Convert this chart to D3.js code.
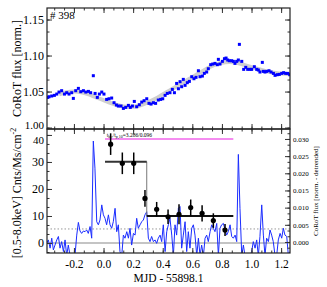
<!DOCTYPE html>
<html>
<head>
<meta charset="utf-8">
<script src="https://cdn.jsdelivr.net/npm/d3@7"></script>
<style>
    body { margin: 0; background: #fff; }
    text { font-family: "Liberation Serif", "DejaVu Serif", serif; fill: #000; }
</style>
</head>
<body>
<div id="chart"></div>
<script>

// CoRoT light curve (top panel), normalised flux
const corotTime = [-0.377,-0.368,-0.350,-0.332,-0.316,-0.301,-0.283,-0.264,-0.249,-0.233,-0.215,-0.204,-0.188,-0.170,-0.154,-0.136,-0.120,-0.102,-0.087,-0.069,-0.057,-0.042,-0.028,-0.012,0.003,0.021,0.037,0.055,0.071,0.087,0.100,0.118,0.134,0.150,0.168,0.181,0.195,0.208,0.224,0.242,0.258,0.274,0.292,0.307,0.321,0.337,0.352,0.370,0.386,0.400,0.416,0.431,0.449,0.465,0.479,0.494,0.506,0.517,0.528,0.539,0.551,0.566,0.580,0.596,0.611,0.625,0.641,0.652,0.668,0.681,0.697,0.708,0.724,0.738,0.753,0.769,0.776,0.787,0.803,0.817,0.828,0.839,0.850,0.866,0.877,0.888,0.900,0.911,0.918,0.934,0.947,0.961,0.974,0.990,1.001,1.019,1.035,1.046,1.057,1.073,1.080,1.091,1.102,1.118,1.132,1.148,1.159,1.174,1.188,1.204,1.217,1.231,1.245,1.258];
const corotFlux = [1.0419,1.0428,1.0438,1.0447,1.0465,1.0493,1.0512,1.0465,1.0484,1.0465,1.0484,1.0405,1.0512,1.0544,1.0498,1.0512,1.0493,1.0502,1.0484,1.0720,1.0474,1.0419,1.0465,1.0493,1.0465,1.0391,1.0400,1.0410,1.0345,1.0313,1.0299,1.0299,1.0266,1.0280,1.0308,1.0280,1.0299,1.0363,1.0289,1.0317,1.0354,1.0373,1.0400,1.0336,1.0326,1.0345,1.0336,1.0382,1.0391,1.0400,1.0447,1.0474,1.0484,1.0530,1.0484,1.0613,1.0539,1.0637,1.0567,1.0669,1.0586,1.0623,1.0641,1.0706,1.0678,1.0697,1.0789,1.0706,1.0715,1.0752,1.0771,1.0817,1.0873,1.0882,1.0891,1.0873,1.0947,1.0882,1.0919,1.0956,1.0965,1.0938,1.0928,1.0928,1.0919,1.0891,1.0919,1.0938,1.1155,1.0919,1.0808,1.0836,1.0808,1.0808,1.0808,1.0845,1.0808,1.0799,1.0771,1.0905,1.0780,1.0771,1.0780,1.0789,1.0771,1.0752,1.0725,1.0734,1.0738,1.0752,1.0762,1.0752,1.0752,1.0734];

// smooth trend (grey band)
const trendTime = [-0.30,-0.25,-0.20,-0.15,-0.10,-0.05,0.00,0.05,0.10,0.15,0.20,0.25,0.30,0.35,0.40,0.45,0.50,0.55,0.60,0.65,0.70,0.75,0.80,0.85,0.90,0.95,1.00,1.05,1.10,1.15,1.20,1.26];
const trendFlux = [1.046,1.049,1.050,1.049,1.046,1.042,1.038,1.034,1.031,1.029,1.029,1.031,1.035,1.040,1.046,1.052,1.058,1.064,1.070,1.076,1.082,1.087,1.090,1.091,1.090,1.087,1.084,1.081,1.078,1.076,1.075,1.074];

// detrended CoRoT flux (bottom panel, right axis)
const detTime = [-0.384,-0.373,-0.361,-0.350,-0.339,-0.328,-0.316,-0.305,-0.294,-0.283,-0.271,-0.260,-0.249,-0.238,-0.226,-0.215,-0.204,-0.193,-0.181,-0.170,-0.159,-0.148,-0.136,-0.125,-0.114,-0.103,-0.091,-0.080,-0.069,-0.058,-0.046,-0.035,-0.024,-0.012,-0.001,0.010,0.021,0.033,0.044,0.055,0.066,0.078,0.089,0.100,0.111,0.123,0.134,0.145,0.157,0.168,0.179,0.190,0.202,0.213,0.224,0.235,0.247,0.258,0.269,0.280,0.292,0.303,0.314,0.325,0.337,0.348,0.359,0.370,0.382,0.393,0.404,0.416,0.427,0.438,0.449,0.461,0.472,0.483,0.494,0.506,0.517,0.528,0.539,0.551,0.562,0.573,0.584,0.596,0.607,0.618,0.630,0.641,0.652,0.663,0.675,0.686,0.697,0.708,0.720,0.731,0.742,0.753,0.765,0.776,0.787,0.798,0.810,0.821,0.832,0.843,0.855,0.866,0.877,0.889,0.900,0.911,0.922,0.934,0.945,0.956,0.967,0.979,0.990,1.001,1.012,1.024,1.035,1.046,1.057,1.069,1.080,1.091,1.102,1.114,1.125,1.136,1.147,1.159,1.170,1.181,1.193,1.204,1.215,1.226,1.238,1.249,1.260];
const detFlux = [-0.0004,0.0006,-0.0018,0.0011,-0.0023,-0.0009,0.0006,0.0016,-0.0018,0.0001,-0.0028,0.0006,-0.0040,-0.0009,-0.0040,-0.0040,-0.0040,-0.0040,0.0020,0.0057,0.0032,0.0025,0.0032,0.0030,0.0035,0.0025,0.0045,0.0011,0.0294,0.0215,0.0059,0.0050,0.0064,0.0108,0.0079,0.0069,0.0050,0.0079,0.0050,0.0040,0.0059,0.0098,0.0030,0.0050,-0.0028,-0.0040,0.0020,0.0011,0.0030,0.0011,0.0040,-0.0009,0.0025,0.0020,0.0069,0.0040,0.0050,0.0059,0.0064,0.0079,0.0088,0.0011,0.0001,0.0016,0.0001,0.0006,-0.0004,0.0011,0.0020,0.0001,0.0050,-0.0028,0.0030,0.0050,0.0069,0.0020,-0.0040,0.0050,0.0020,0.0098,0.0103,-0.0018,0.0020,0.0059,-0.0028,0.0030,-0.0018,0.0040,0.0050,0.0020,-0.0040,0.0011,-0.0040,-0.0009,-0.0040,0.0011,0.0020,0.0001,0.0030,0.0050,0.0040,0.0030,0.0054,-0.0040,0.0040,0.0050,0.0054,0.0035,0.0020,0.0030,0.0050,0.0016,0.0011,0.0020,0.0001,0.0255,0.0098,-0.0040,-0.0009,-0.0040,-0.0040,-0.0040,-0.0040,-0.0028,0.0001,-0.0018,0.0006,-0.0040,0.0016,0.0108,0.0020,-0.0040,0.0011,0.0001,0.0035,0.0020,0.0001,-0.0040,-0.0040,0.0006,0.0025,0.0011,0.0040,0.0020,0.0016,-0.0040,-0.0028];

// X-ray light curve (bottom panel, left axis)
const xrayTime = [0.048,0.127,0.204,0.280,0.359,0.436,0.510,0.589,0.666,0.742,0.821];
const xrayRate = [36.6,29.5,29.5,16.5,12.5,9.7,10.6,13.1,11.0,8.3,4.8];
const xrayErr  = [4.0,4.0,4.0,3.1,2.7,2.7,3.7,3.0,3.0,2.7,2.2];

// block steps: start, end, level
const blockStart = [0.010,0.292];
const blockEnd   = [0.292,0.877];
const blockRate  = [30.1,10.0];

// flare duration bar
const flareSpan = [0.010,0.877];
const flareLevel = 38.5;
const flareLabel = '3.286/0.096';

// reference lines (left axis units)
const zeroLevel = 0;
const quiescentLevel = 5.2;

// tick labels
const xTicks = [-0.2,0.0,0.2,0.4,0.6,0.8,1.0,1.2];
const fluxTicks = [1.00,1.05,1.10,1.15];
const rateTicks = [0,10,20,30,40];
const detTicks = [0.000,0.005,0.010,0.015,0.020,0.025,0.030];

function init(){

    const width = 327;
    const height = 287;
    const left = 47, right = 290, top = 8, mid = 129, bottom = 253;

    const svg = d3.select('#chart')
        .append('svg')
        .attr('width', width)
        .attr('height', height);

    // scales
    const x = d3.scaleLinear().domain([-0.382, 1.260]).range([left, right]);
    const yFlux = d3.scaleLinear().domain([0.998, 1.166]).range([mid, top]);
    const yRate = d3.scaleLinear().domain([-3.7, 42.2]).range([bottom, mid]);
    const yDet = d3.scaleLinear().domain([-0.00321, 0.0329]).range([bottom, mid]);

    svg.append('defs').append('clipPath').attr('id', 'clipBottom')
        .append('rect').attr('x', left).attr('y', mid).attr('width', right - left).attr('height', bottom - mid);
    svg.append('defs').append('clipPath').attr('id', 'clipTop')
        .append('rect').attr('x', left).attr('y', top).attr('width', right - left).attr('height', mid - top);

    /*************************** top panel **************************/

    const topG = svg.append('g').attr('clip-path', 'url(#clipTop)');

    const trendLine = d3.line()
        .x((d, i) => x(trendTime[i]))
        .y(d => yFlux(d))
        .curve(d3.curveMonotoneX);

    topG.append('path')
        .attr('d', trendLine(trendFlux))
        .attr('fill', 'none')
        .attr('stroke', '#cfcfcf')
        .attr('stroke-width', 4);

    topG.selectAll('rect.dot')
        .data(corotFlux)
        .enter().append('rect')
        .attr('class', 'dot')
        .attr('x', (d, i) => x(corotTime[i]) - 1.5)
        .attr('y', d => yFlux(d) - 1.5)
        .attr('width', 3)
        .attr('height', 3)
        .attr('fill', '#0000ff');

    svg.append('text')
        .attr('x', 50).attr('y', 19)
        .attr('font-size', 11)
        .text('# 398');

    /************************** bottom panel ************************/

    const botG = svg.append('g').attr('clip-path', 'url(#clipBottom)');

    botG.append('line')
        .attr('x1', left).attr('x2', right)
        .attr('y1', yRate(zeroLevel)).attr('y2', yRate(zeroLevel))
        .attr('stroke', '#b0b0b0').attr('stroke-width', 1.5);

    botG.append('line')
        .attr('x1', left).attr('x2', right)
        .attr('y1', yRate(quiescentLevel)).attr('y2', yRate(quiescentLevel))
        .attr('stroke', '#999').attr('stroke-width', 1)
        .attr('stroke-dasharray', '1.5,2');

    const detLine = d3.line()
        .x((d, i) => x(detTime[i]))
        .y(d => yDet(d));

    botG.append('path')
        .attr('d', detLine(detFlux))
        .attr('fill', 'none')
        .attr('stroke', '#1a2cff')
        .attr('stroke-width', 1);

    // flare duration bar + label
    botG.append('line')
        .attr('x1', x(flareSpan[0])).attr('x2', x(flareSpan[1]))
        .attr('y1', yRate(flareLevel)).attr('y2', yRate(flareLevel))
        .attr('stroke', '#f58cf0').attr('stroke-width', 2);

    const lab = svg.append('text')
        .attr('x', x(0.022)).attr('y', yRate(flareLevel) - 2)
        .attr('font-size', 5.5);
    lab.append('tspan').text('t');
    lab.append('tspan').attr('dy', 1.5).attr('font-size', 4).text('b,r');
    lab.append('tspan').attr('dy', -1.5).text('/t');
    lab.append('tspan').attr('dy', 1.5).attr('font-size', 4).text('p,10');
    lab.append('tspan').attr('dy', -1.5).text('=' + flareLabel);

    // block steps
    botG.append('line')
        .attr('x1', x(blockEnd[0])).attr('x2', x(blockEnd[0]))
        .attr('y1', yRate(blockRate[0])).attr('y2', yRate(blockRate[1]))
        .attr('stroke', '#777').attr('stroke-width', 1);

    botG.selectAll('line.block')
        .data(blockRate)
        .enter().append('line')
        .attr('class', 'block')
        .attr('x1', (d, i) => x(blockStart[i]))
        .attr('x2', (d, i) => x(blockEnd[i]))
        .attr('y1', d => yRate(d))
        .attr('y2', d => yRate(d))
        .attr('stroke', (d, i) => i === 0 ? '#333' : '#111')
        .attr('stroke-width', 2);

    // x-ray points with error bars
    botG.selectAll('line.err')
        .data(xrayRate)
        .enter().append('line')
        .attr('class', 'err')
        .attr('x1', (d, i) => x(xrayTime[i]))
        .attr('x2', (d, i) => x(xrayTime[i]))
        .attr('y1', (d, i) => yRate(d - xrayErr[i]))
        .attr('y2', (d, i) => yRate(d + xrayErr[i]))
        .attr('stroke', '#000').attr('stroke-width', 1.5);

    botG.selectAll('circle.pt')
        .data(xrayRate)
        .enter().append('circle')
        .attr('class', 'pt')
        .attr('cx', (d, i) => x(xrayTime[i]))
        .attr('cy', d => yRate(d))
        .attr('r', 2.6)
        .attr('fill', '#000');

    /***************************** axes *****************************/

    function minorTicks(scale, step) {
        const [a, b] = scale.domain();
        return d3.range(Math.ceil(a / step - 1e-6) * step, b + 1e-9, step);
    }

    function ticks(axisFn, scale, pos, majors, step, fmt, size) {
        svg.append('g')
            .attr('transform', pos)
            .call(axisFn(scale).tickValues(minorTicks(scale, step)).tickSize(-2.5).tickFormat(''))
            .call(g => g.select('.domain').remove())
            .selectAll('line').attr('stroke', '#333');
        const g = svg.append('g')
            .attr('transform', pos)
            .call(axisFn(scale).tickValues(majors).tickSize(-5).tickPadding(3)
                .tickFormat(fmt || ''))
            .call(g => g.select('.domain').remove());
        g.selectAll('line').attr('stroke', '#333');
        g.selectAll('text')
            .attr('font-family', '"Liberation Serif", serif')
            .attr('font-size', size || 12)
            .attr('fill', '#000');
        return g;
    }

    const xStep = 0.2 / 3;
    // top panel
    ticks(d3.axisTop, x, `translate(0,${top})`, xTicks, xStep);
    ticks(d3.axisBottom, x, `translate(0,${mid})`, xTicks, xStep);
    const yl = ticks(d3.axisLeft, yFlux, `translate(${left},0)`, fluxTicks, 0.05 / 3, d => d.toFixed(2));
    // lowest flux label sits just above the '40' of the lower panel
    yl.selectAll('text').filter(d => d === 1.00).attr('dy', '0.05em').attr('font-size', 11);
    ticks(d3.axisRight, yFlux, `translate(${right},0)`, fluxTicks, 0.05 / 3);
    // bottom panel
    ticks(d3.axisTop, x, `translate(0,${mid})`, xTicks, xStep);
    const xb = ticks(d3.axisBottom, x, `translate(0,${bottom})`, xTicks, xStep, d => d.toFixed(1), 11.5);
    xb.selectAll('text').attr('dy', '0.95em').attr('y', 4);
    const rl = ticks(d3.axisLeft, yRate, `translate(${left},0)`, rateTicks, 10 / 3, d => d);
    rl.selectAll('text').filter(d => d === 40).attr('dy', '0.75em').attr('font-size', 11);
    ticks(d3.axisRight, yDet, `translate(${right},0)`, detTicks, 0.005 / 3, d => d.toFixed(3), 7);

    // frames
    svg.append('rect')
        .attr('x', left).attr('y', top).attr('width', right - left).attr('height', mid - top)
        .attr('fill', 'none').attr('stroke', '#222').attr('stroke-width', 1.2);
    svg.append('rect')
        .attr('x', left).attr('y', mid).attr('width', right - left).attr('height', bottom - mid)
        .attr('fill', 'none').attr('stroke', '#222').attr('stroke-width', 1.2);

    /**************************** titles ****************************/

    svg.append('text')
        .attr('transform', `translate(21,${(top + mid) / 2}) rotate(-90)`)
        .attr('text-anchor', 'middle')
        .attr('font-size', 12)
        .text('CoRoT flux [norm.]');

    const yt = svg.append('text')
        .attr('transform', `translate(21,${(mid + bottom) / 2 + 2}) rotate(-90)`)
        .attr('text-anchor', 'middle')
        .attr('font-size', 12);
    yt.append('tspan').text('[0.5-8.0keV] Cnts/Ms/cm');
    yt.append('tspan').attr('dy', -5).attr('font-size', 8).text('-2');

    svg.append('text')
        .attr('transform', `translate(318,${(mid + bottom) / 2}) rotate(-90)`)
        .attr('text-anchor', 'middle')
        .attr('font-size', 7)
        .text('CoRoT flux [norm. - detrended]');

    svg.append('text')
        .attr('x', (left + right) / 2).attr('y', 282)
        .attr('text-anchor', 'middle')
        .attr('font-size', 11.5)
        .text('MJD - 55898.1');
}

window.onload = init;
</script>
</body>
</html>
